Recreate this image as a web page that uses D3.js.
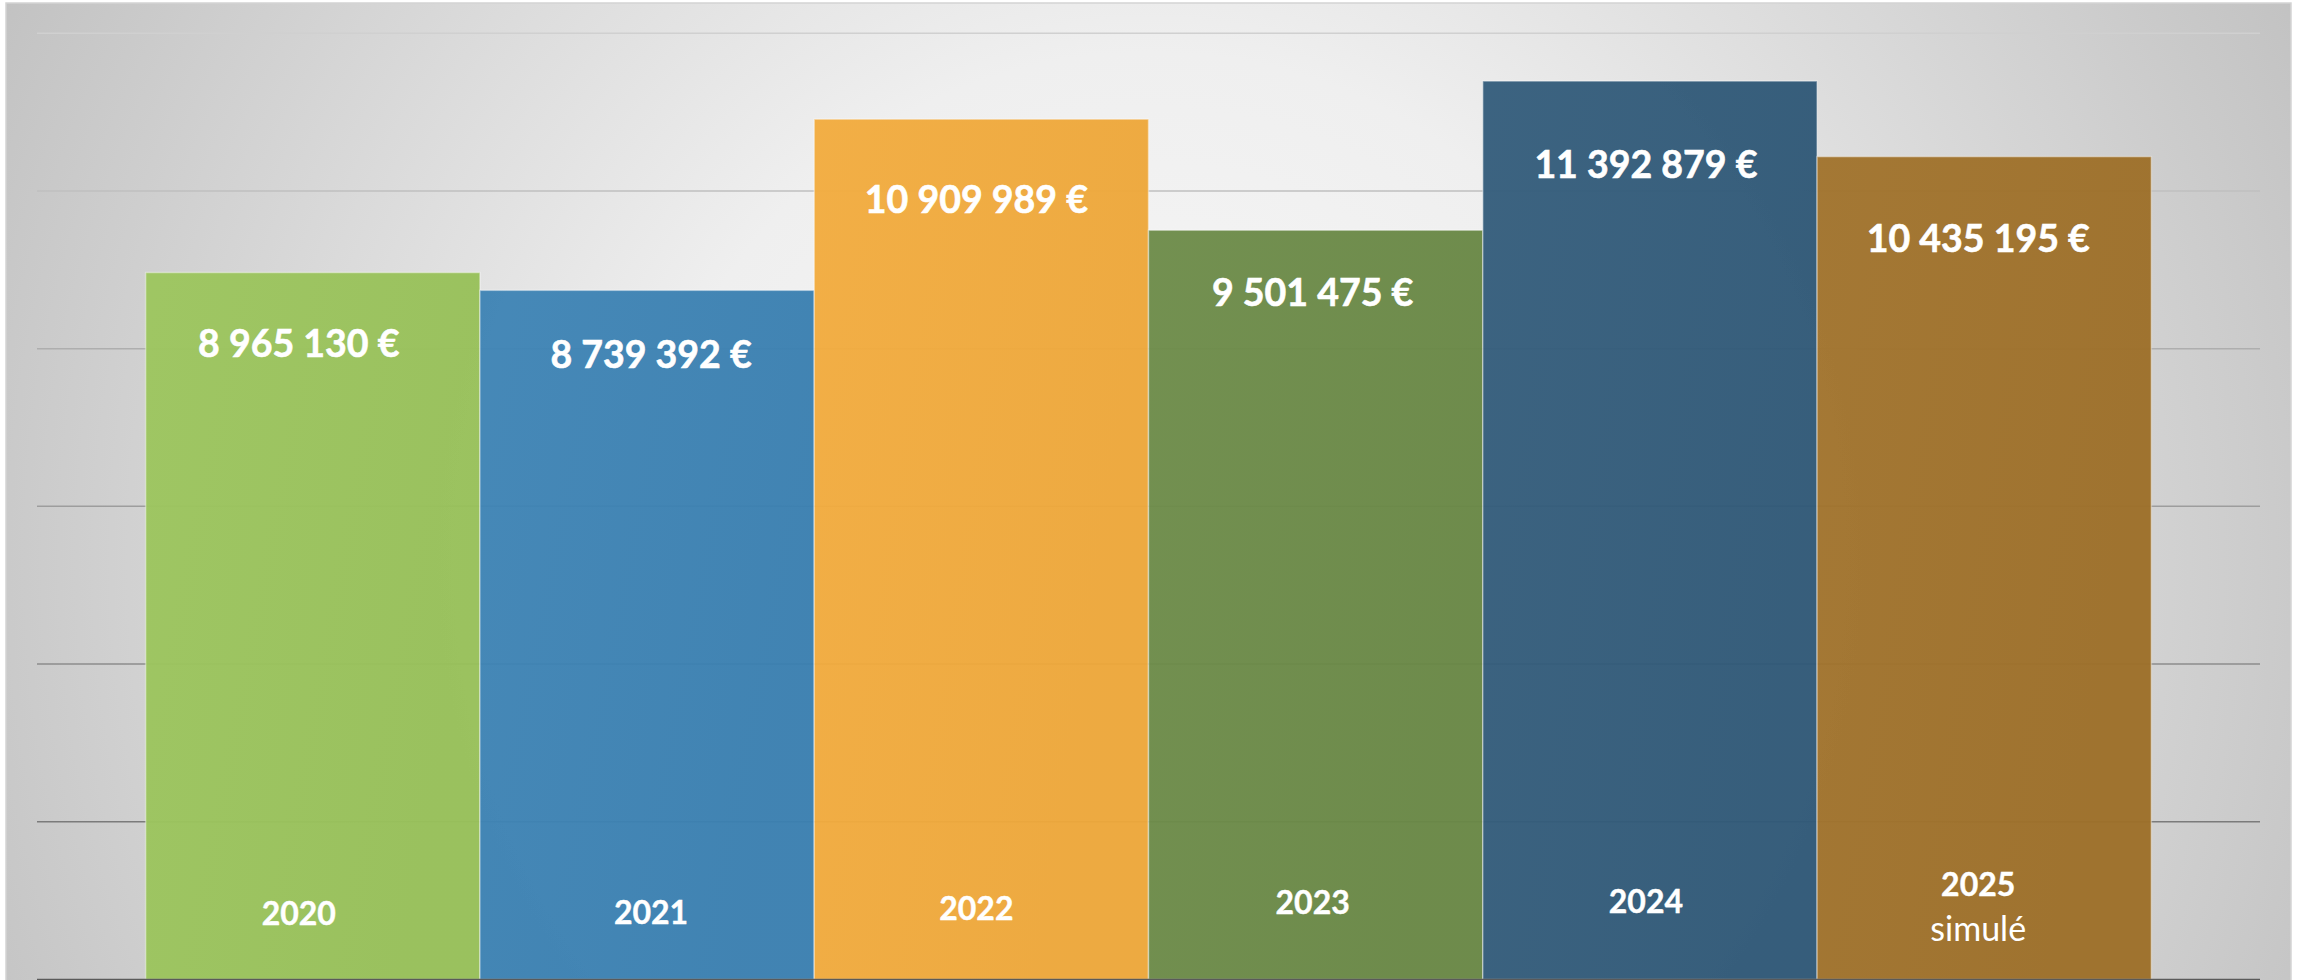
<!DOCTYPE html>
<html>
<head>
<meta charset="utf-8">
<script src="https://cdn.jsdelivr.net/npm/d3@7"></script>
<style>
  body { margin: 0; background: #fff; }
  svg { display: block; }
  text { font-family: Lato, "Open Sans", sans-serif; fill: #fff; }
</style>
</head>
<body>
<div id="container"></div>
<script>
// chart values
var years = ["2020", "2021", "2022", "2023", "2024", "2025"]
var yearNotes = ["", "", "", "", "", "simulé"]
var amounts = [8965130, 8739392, 10909989, 9501475, 11392879, 10435195]
var barColors = ["#9bc45c", "#3c82b4", "#f2aa3c", "#6b8a47", "#325b7a", "#a0722a"]
var yMax = 12000000

// hand placed labels
var valueDy = [84, 78, 94, 76, 97, 95]
var labelDx = [-14, 4, -5, -3, -4, -6]
var yearBase = [925, 924, 920, 914, 913, 896]

var width = 2305, height = 980

var svg = d3.select("#container").append("svg")
  .attr("width", width)
  .attr("height", height)

var defs = svg.append("defs")

var bg = defs.append("radialGradient")
  .attr("id", "bg")
  .attr("gradientUnits", "userSpaceOnUse")
  .attr("cx", 1150).attr("cy", 560).attr("r", 1450)
bg.append("stop").attr("offset", 0).attr("stop-color", "#f8f8f8")
bg.append("stop").attr("offset", 0.35).attr("stop-color", "#efefef")
bg.append("stop").attr("offset", 1).attr("stop-color", "#b8b8b8")

var shine = defs.append("linearGradient")
  .attr("id", "shine")
  .attr("x1", 0).attr("y1", 0).attr("x2", 1).attr("y2", 0.4)
shine.append("stop").attr("offset", 0).attr("stop-color", "#fff").attr("stop-opacity", 0.02)
shine.append("stop").attr("offset", 1).attr("stop-color", "#000").attr("stop-opacity", 0.02)

// chart frame
svg.append("rect")
  .attr("x", 6).attr("y", 3)
  .attr("width", 2285).attr("height", 980)
  .attr("fill", "url(#bg)")
  .attr("stroke", "#d4d4d4")
  .attr("stroke-width", 1.5)

var x = d3.scaleBand()
  .domain(years)
  .range([37, 2260])
  .paddingInner(0)
  .paddingOuter(0.325)

var y = d3.scaleLinear()
  .domain([0, yMax])
  .range([979.5, 33.2])

var gridColor = d3.scaleLinear()
  .domain([yMax, 0])
  .range(["#d0d0d0", "#6a6a6a"])

// gridlines
svg.append("g")
  .selectAll("line")
  .data(y.ticks(6).filter(d => d > 0))
  .enter().append("line")
    .attr("x1", 37).attr("x2", 2260)
    .attr("y1", d => y(d)).attr("y2", d => y(d))
    .attr("stroke", d => gridColor(d))
    .attr("stroke-width", 1.5)

var fmt = d3.formatLocale({
  decimal: ",",
  thousands: " ",
  grouping: [3],
  currency: ["", " €"]
}).format("$,.0f")

var bars = svg.append("g")
  .selectAll("g")
  .data(amounts)
  .enter().append("g")

bars.append("rect")
  .attr("x", (d, i) => x(years[i]))
  .attr("y", d => y(d))
  .attr("width", x.bandwidth())
  .attr("height", d => y(0) - y(d))
  .attr("fill", (d, i) => barColors[i])
  .attr("fill-opacity", 0.97)

bars.append("rect")
  .attr("x", (d, i) => x(years[i]))
  .attr("y", d => y(d))
  .attr("width", x.bandwidth())
  .attr("height", d => y(0) - y(d))
  .attr("fill", "url(#shine)")
  .attr("stroke", "#fff")
  .attr("stroke-opacity", 0.4)
  .attr("stroke-width", 1.5)

bars.append("text")
  .attr("x", (d, i) => x(years[i]) + x.bandwidth() / 2 + labelDx[i])
  .attr("y", (d, i) => y(d) + valueDy[i])
  .attr("text-anchor", "middle")
  .attr("font-size", 37.5)
  .attr("font-weight", 700)
  .attr("stroke", "#fff")
  .attr("stroke-width", 0.6)
  .text(d => fmt(d))

bars.append("text")
  .attr("x", (d, i) => x(years[i]) + x.bandwidth() / 2 + labelDx[i])
  .attr("y", (d, i) => yearBase[i])
  .attr("text-anchor", "middle")
  .attr("font-size", 32)
  .attr("font-weight", 700)
  .attr("stroke", "#fff")
  .attr("stroke-width", 0.4)
  .text((d, i) => years[i])

bars.filter((d, i) => yearNotes[i] !== "")
  .append("text")
  .attr("x", (d, i) => x(years[5]) + x.bandwidth() / 2 + labelDx[5])
  .attr("y", yearBase[5] + 45)
  .attr("text-anchor", "middle")
  .attr("font-size", 34)
  .text((d, i) => yearNotes[5])

// base line
svg.append("line")
  .attr("x1", 37).attr("x2", 2260)
  .attr("y1", y(0)).attr("y2", y(0))
  .attr("stroke", "#5a5a5a")
  .attr("stroke-width", 1.5)
</script>
</body>
</html>
